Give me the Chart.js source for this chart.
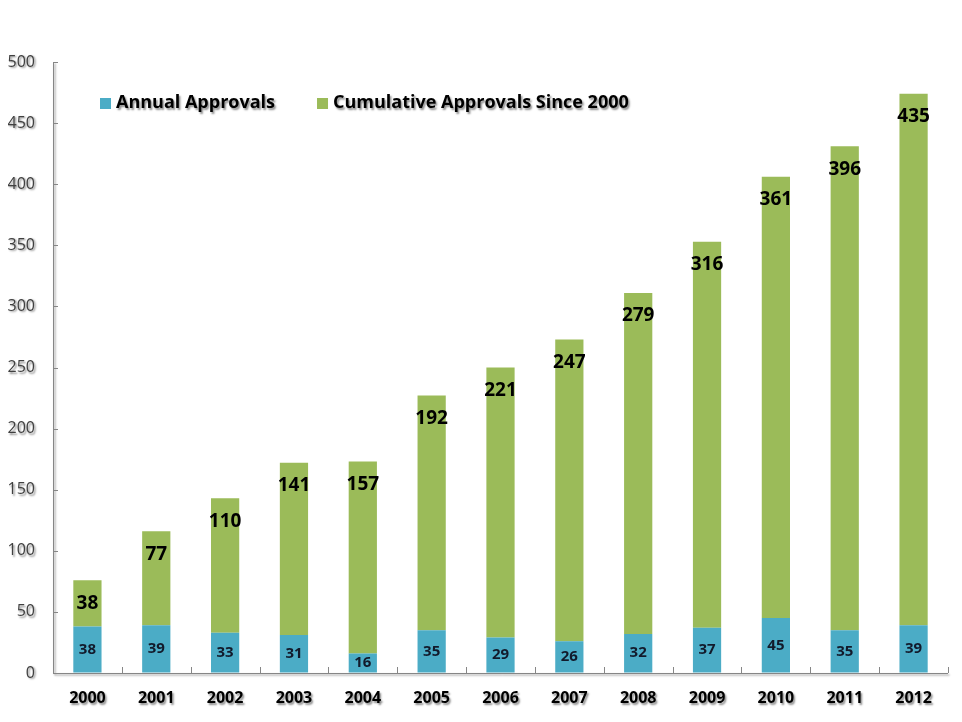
<!DOCTYPE html>
<html>
<head>
<meta charset="utf-8">
<script src="https://cdn.jsdelivr.net/npm/chart.js@4.4.1/dist/chart.umd.min.js"></script>
<style>
  html, body { margin: 0; padding: 0; background: #fff; }
  #wrap { width: 962px; height: 722px; }
</style>
</head>
<body>
<div id="wrap"><canvas id="approvalsChart"></canvas></div>
<script>
const years = ["2000", "2001", "2002", "2003", "2004", "2005", "2006", "2007", "2008", "2009", "2010", "2011", "2012"];
const annualApprovals = [38, 39, 33, 31, 16, 35, 29, 26, 32, 37, 45, 35, 39];
const cumulativeApprovals = [38, 77, 110, 141, 157, 192, 221, 247, 279, 316, 361, 396, 435];
const yTicks = [0, 50, 100, 150, 200, 250, 300, 350, 400, 450, 500];

const FONT = "'Open Sans', 'DejaVu Sans', sans-serif";
const AXIS_GRAY = "#868686";

function setShadow(ctx, on) {
  ctx.shadowColor = on ? "rgba(0,0,0,0.45)" : "transparent";
  ctx.shadowOffsetX = on ? 1.5 : 0;
  ctx.shadowOffsetY = on ? 1.5 : 0;
  ctx.shadowBlur = on ? 2 : 0;
}

// text shadow for the x labels (drawn before datasets), switched off afterwards
const shadowPlugin = {
  id: "shadowPlugin",
  beforeDraw(chart) { setShadow(chart.ctx, true); },
  beforeDatasetsDraw(chart) { setShadow(chart.ctx, false); }
};

// legend sits inside the plot area, top left
const innerLegend = {
  id: "innerLegend",
  afterDraw(chart) {
    const ctx = chart.ctx;
    const area = chart.chartArea;
    let x = area.left + 47;
    const y = area.top + 41;
    ctx.save();
    ctx.font = "bold 18px " + FONT;
    ctx.textBaseline = "middle";
    chart.data.datasets.forEach((ds) => {
      ctx.fillStyle = ds.backgroundColor;
      ctx.fillRect(x, y - 5, 11, 11);
      setShadow(ctx, true);
      ctx.fillStyle = "#000";
      ctx.fillText(ds.label, x + 16, y);
      setShadow(ctx, false);
      x += 16 + ctx.measureText(ds.label).width + 42;
    });
    ctx.restore();
  }
};

// value labels inside the bars
const barLabels = {
  id: "barLabels",
  afterDatasetsDraw(chart) {
    const ctx = chart.ctx;
    ctx.save();
    ctx.textAlign = "center";
    ctx.textBaseline = "middle";
    chart.data.datasets.forEach((ds, i) => {
      const meta = chart.getDatasetMeta(i);
      meta.data.forEach((bar, j) => {
        if (i === 0) {
          ctx.font = "bold 15px " + FONT;
          ctx.fillStyle = "#121a2b";
          ctx.fillText(ds.data[j], bar.x, (bar.y + bar.base) / 2);
        } else {
          ctx.font = "bold 19px " + FONT;
          ctx.fillStyle = "#000";
          ctx.fillText(ds.data[j], bar.x, bar.y + 23);
        }
      });
    });
    ctx.restore();
  }
};

// Excel style inside tick marks
const insideTicks = {
  id: "insideTicks",
  afterDraw(chart) {
    const ctx = chart.ctx;
    const x = chart.scales.x;
    const y = chart.scales.y;
    ctx.save();
    ctx.strokeStyle = AXIS_GRAY;
    ctx.lineWidth = 1;
    ctx.beginPath();
    y.ticks.forEach((t) => {
      const py = Math.round(y.getPixelForValue(t.value)) + 0.5;
      ctx.moveTo(x.left, py);
      ctx.lineTo(x.left + 5, py);
    });
    const step = (x.right - x.left) / years.length;
    for (let i = 1; i <= years.length; i++) {
      const px = Math.round(x.left + step * i) + 0.5;
      ctx.moveTo(px, y.bottom);
      ctx.lineTo(px, y.bottom - 6);
    }
    ctx.stroke();
    ctx.restore();
  }
};

new Chart(document.getElementById("approvalsChart").getContext("2d"), {
  type: "bar",
  data: {
    labels: years,
    datasets: [
      {
        label: "Annual Approvals",
        data: annualApprovals,
        backgroundColor: "#4BACC6",
        categoryPercentage: 1,
        barPercentage: 0.41,
      },
      {
        label: "Cumulative Approvals Since 2000",
        data: cumulativeApprovals,
        backgroundColor: "#9BBB59",
        categoryPercentage: 1,
        barPercentage: 0.41,
      },
    ],
  },
  options: {
    responsive: true,
    maintainAspectRatio: false,
    animation: false,
    layout: {
      padding: { left: 8, right: 14, top: 62, bottom: 12 },
    },
    plugins: {
      legend: { display: false },
      tooltip: { enabled: false },
    },
    scales: {
      x: {
        stacked: true,
        grid: { display: false },
        border: { display: false },
        afterFit(scale) { scale.height = 37; },
        ticks: {
          color: "#000",
          padding: 8,
          font: { family: FONT, size: 16, weight: "bold" },
        },
      },
      y: {
        stacked: true,
        min: 0,
        max: 500,
        z: 1,
        afterBuildTicks(scale) {
          scale.ticks = yTicks.map((v) => ({ value: v }));
        },
        afterFit(scale) { scale.width = 45; },
        grid: {
          drawTicks: false,
          color: (c) => (c.tick && c.tick.value === 0 ? AXIS_GRAY : "transparent"),
        },
        border: { color: AXIS_GRAY },
        ticks: {
          color: "#404040",
          padding: 18,
          font: { family: FONT, size: 16 },
        },
      },
    },
  },
  plugins: [shadowPlugin, innerLegend, barLabels, insideTicks],
});
</script>
</body>
</html>
